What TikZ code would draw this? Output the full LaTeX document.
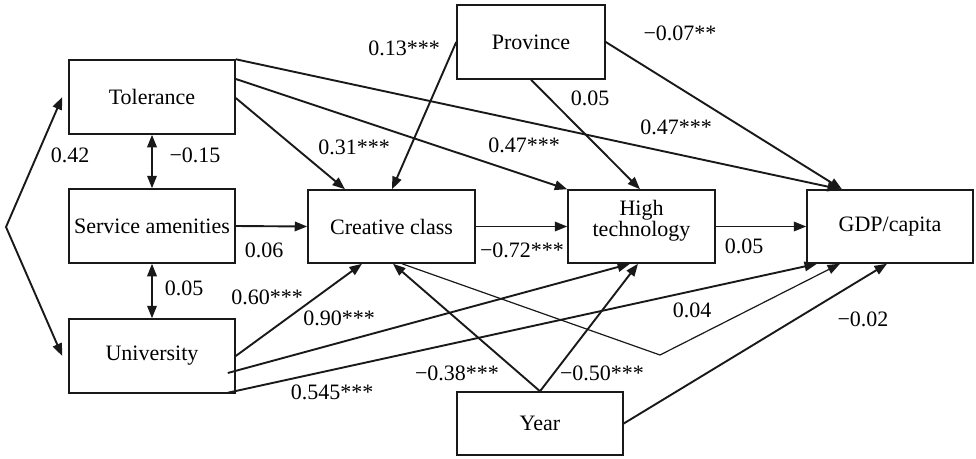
\documentclass[tikz,border=0pt]{standalone}
\usepackage{fontspec}
\setmainfont{Liberation Serif}
\usetikzlibrary{arrows.meta,calc}
\begin{document}
\begin{tikzpicture}[x=1pt,y=-1pt,
  box/.style={draw=black!90, line width=1.5pt, inner sep=0pt, align=center,
    font=\fontsize{22}{17}\selectfont},
  coef/.style={inner sep=0pt, font=\fontsize{22}{26}\selectfont},
  tip/.style={-{Triangle[length=12.5pt,width=9.5pt]}},
  link/.style={draw=black!90, line width=1.9pt, tip},
  thinlink/.style={draw=black!90, line width=1.2pt, tip},
  both/.style={draw=black!90, line width=1.9pt,
    {Triangle[length=12.5pt,width=9.5pt]}-{Triangle[length=12.5pt,width=9.5pt]}}
]
\useasboundingbox (0,0) rectangle (976,458);

% variables
\node[box, minimum width=166pt, minimum height=74pt] (tol)  at (152,97)    {Tolerance};
\node[box, minimum width=166pt, minimum height=74pt] (sa)   at (152,226)   {Service amenities};
\node[box, minimum width=166pt, minimum height=74pt] (univ) at (152,356)   {University};
\node[box, minimum width=167pt, minimum height=73pt] (cc)   at (391.5,226.5) {Creative class};
\node[box, minimum width=147pt, minimum height=73pt, text depth=17pt] (ht) at (641.5,226.5) {High\\technology};
\node[box, minimum width=166pt, minimum height=73pt] (gdp)  at (890,226.5) {GDP/capita};
\node[box, minimum width=148pt, minimum height=74pt] (prov) at (531,42)    {Province};
\node[box, minimum width=166pt, minimum height=63pt] (year) at (540,423.5) {Year};

\coordinate (fork) at (6,227);
\coordinate (bend) at (660,355);

% correlations among the exogenous variables
\draw[both] ([xshift=-6pt]tol.west) -- (fork) -- ([xshift=-6pt]univ.west);
\draw[both] (tol.south) -- (sa.north);
\draw[both] (sa.south) -- (univ.north);

% paths from Tolerance
\draw[link] (tol.north east) -- ([xshift=-50pt]gdp.north);
\draw[link] ([yshift=18pt]tol.east) -- (ht.north west);
\draw[link] ([yshift=-1pt]tol.east) -- ([xshift=-46.5pt]cc.north);

% paths from Service amenities and University
\draw[link] (sa.east) -- (cc.west);
\draw[link] (univ.east) -- ([xshift=-29.5pt]cc.south);
\draw[link] ([xshift=-8pt,yshift=-17pt]univ.east) -- ([xshift=-11.5pt]ht.south);
\draw[link] ([xshift=-8pt,yshift=1pt]univ.south east) -- ([xshift=-73pt]gdp.south);

% main chain
\draw[link] (cc.east) -- (ht.west);
\draw[link] (ht.east) -- (gdp.west);

% paths from Province
\draw[link] (prov.west) -- ([xshift=0.5pt]cc.north);
\draw[link] (prov.south) -- ([xshift=-1.5pt]ht.south |- ht.north);
\draw[link] (prov.east) -- ([xshift=-48pt]gdp.north);

% direct path from Creative class to GDP/capita
\draw[thinlink] ([xshift=10.5pt]cc.south) -- (bend) -- ([xshift=-50pt]gdp.south);

% paths from Year
\draw[link] (year.north) -- ([xshift=1.5pt]cc.south);
\draw[link] (year.north) -- ([xshift=-3.5pt]ht.south);
\draw[link] (year.east) -- ([xshift=-3pt]gdp.south);

% coefficients
\node[coef] (c42)  at (70,155)  {0.42};
\node[coef] (c15)  at (195,155) {−0.15};
\node[coef] (c05a) at (184,288) {0.05};
\node[coef] (c06)  at (264,250) {0.06};
\node[coef] (c60)  at (267,297) {0.60***};
\node[coef] (c90)  at (339,318) {0.90***};
\node[coef] (c545) at (332,392) {0.545***};
\node[coef] (c72)  at (522,250) {−0.72***};
\node[coef] (c05b) at (744,246) {0.05};
\node[coef] (c47a) at (676,127) {0.47***};
\node[coef] (c47b) at (524,145) {0.47***};
\node[coef] (c31)  at (354,147) {0.31***};
\node[coef] (c13)  at (404,48)  {0.13***};
\node[coef] (c05c) at (590,98)  {0.05};
\node[coef] (c07)  at (680,33)  {−0.07**};
\node[coef] (c04)  at (692,310) {0.04};
\node[coef] (c38)  at (457,373) {−0.38***};
\node[coef] (c50)  at (602,373) {−0.50***};
\node[coef] (c02)  at (863,319) {−0.02};
\end{tikzpicture}
\end{document}
